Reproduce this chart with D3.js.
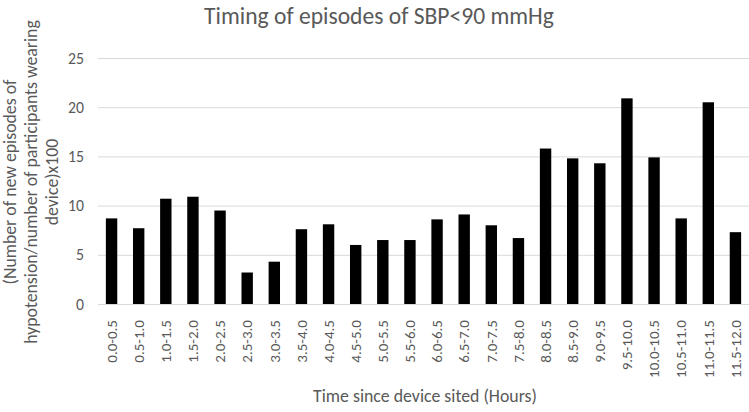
<!DOCTYPE html>
<html><head><meta charset="utf-8">
<script src="https://cdn.jsdelivr.net/npm/d3@7"></script>
<style>body{margin:0;background:#fff;font-family:Calibri,Carlito,Lato,sans-serif;}</style>
</head><body><svg id="c" width="749" height="412"></svg>
<script>
const categories = ["0.0-0.5","0.5-1.0","1.0-1.5","1.5-2.0","2.0-2.5","2.5-3.0","3.0-3.5","3.5-4.0","4.0-4.5","4.5-5.0","5.0-5.5","5.5-6.0","6.0-6.5","6.5-7.0","7.0-7.5","7.5-8.0","8.0-8.5","8.5-9.0","9.0-9.5","9.5-10.0","10.0-10.5","10.5-11.0","11.0-11.5","11.5-12.0"];
const values = [8.7,7.7,10.7,10.9,9.5,3.2,4.3,7.6,8.1,6.0,6.5,6.5,8.6,9.1,8.0,6.7,15.8,14.8,14.3,20.9,14.9,8.7,20.5,7.3];
const yTicks = [0,5,10,15,20,25];
const title = "Timing of episodes of SBP<90 mmHg";
const xTitle = "Time since device sited (Hours)";
const yTitleLines = ["(Number of new episodes of","hypotension/number of participants wearing","device)x100"];

const svg = d3.select("#c");
const W = 749;
const x = d3.scaleBand().domain(categories).range([98, W]).paddingInner(0.58).paddingOuter(0.29);
const y = d3.scaleLinear().domain([0,25]).range([304, 58]);
const grey = "#595959";

function fit(str, target) {
  const t = svg.append("text").attr("font-size", 20).text(str);
  const L = t.node().getComputedTextLength();
  t.remove();
  return 20 * target / L;
}
const fsTick = fit("10.0-10.5", 58);
const fsY = fit("25", 16);
const fsTitle = fit(title, 350);
const fsXT = fit(xTitle, 224);
const fsYT = fit(yTitleLines[1], 324);

svg.append("g").selectAll("line").data(yTicks).join("line")
  .attr("x1", 98).attr("x2", W).attr("y1", d=>y(d)+0.5).attr("y2", d=>y(d)+0.5)
  .attr("stroke", "#d9d9d9").attr("stroke-width", 1);

svg.append("g").selectAll("text").data(yTicks).join("text")
  .attr("x", 84).attr("y", d=>y(d)).attr("dy","0.35em").attr("text-anchor","end")
  .attr("fill", grey).attr("font-size", fsY).text(d=>d);

svg.append("g").selectAll("rect").data(values).join("rect")
  .attr("x", (d,i)=>x(categories[i])).attr("width", x.bandwidth())
  .attr("y", d=>y(d)).attr("height", d=>y(0)-y(d)).attr("fill","#000");

svg.append("g").selectAll("text").data(categories).join("text")
  .attr("transform", d=>`translate(${x(d)+x.bandwidth()/2},320) rotate(-90)`)
  .attr("text-anchor","end").attr("dy","0.35em")
  .attr("fill", grey).attr("font-size", fsTick).text(d=>d);

svg.append("text").attr("x", 379).attr("y", 24).attr("text-anchor","middle")
  .attr("fill", grey).attr("font-size", fsTitle).text(title);

svg.append("text").attr("x", 425).attr("y", 402).attr("text-anchor","middle")
  .attr("fill", grey).attr("font-size", fsXT).text(xTitle);

const yt = svg.append("text").attr("transform","translate(31,182) rotate(-90)")
  .attr("text-anchor","middle").attr("fill", grey).attr("font-size", fsYT);
yTitleLines.forEach((t,i)=>{
  yt.append("tspan").attr("x",0).attr("y",(i-1)*21).attr("dy","0.35em").text(t);
});
</script></body></html>
